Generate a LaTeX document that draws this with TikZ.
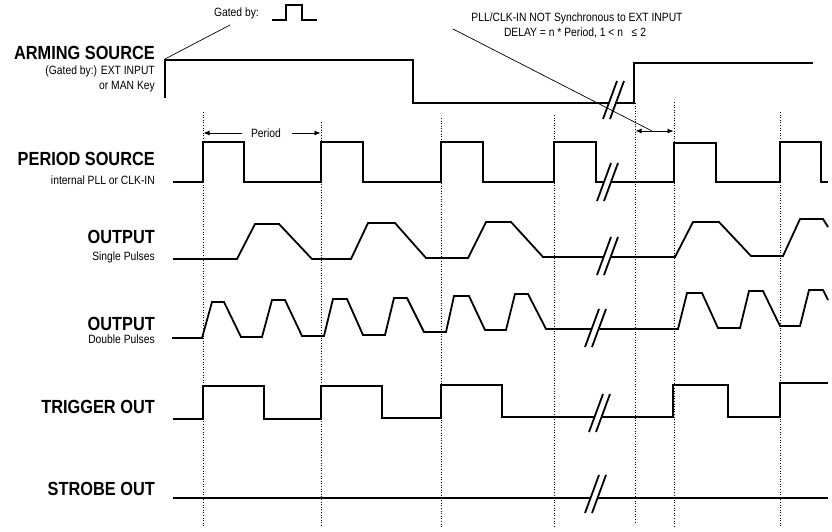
\documentclass[tikz,border=0pt]{standalone}
\usepackage{fontspec}
\setmainfont{Liberation Sans}[FakeStretch=0.86]
\usetikzlibrary{arrows.meta}
\tikzset{
  wave/.style={line width=1.8pt, line join=miter, line cap=butt},
  guide/.style={line width=0.6pt, dotted},
  leader/.style={line width=0.7pt},
  biglab/.style={font=\fontsize{19}{19}\selectfont\bfseries, inner sep=0pt, anchor=base east},
  smalllab/.style={font=\fontsize{12}{12}\selectfont, inner sep=0pt, anchor=base east},
  note/.style={font=\fontsize{12}{12}\selectfont, inner sep=0pt, anchor=base},
  dimarrow/.style={line width=0.8pt, {Latex[length=6pt,width=5pt]}-{Latex[length=6pt,width=5pt]}},
  onearrow/.style={line width=0.8pt, -{Latex[length=6pt,width=5pt]}}
}
\newcommand\brkmark[2]{%
  \fill[white] (#1,#2) -- ++(14,-38) -- ++(7,0) -- ++(-14,38) -- cycle;
  \draw[wave] (#1,#2) -- ++(14,-38) ({#1+7},#2) -- ++(14,-38);}
\begin{document}
\begin{tikzpicture}[x=1pt,y=-1pt]
\useasboundingbox (0,0) rectangle (832,532);

% dotted guide lines
\foreach \gx/\gt/\gb in {203/112/527, 321/122/527, 441/118/527, 554/115/527, 635/103/522, 674/102/527, 780/112/527}
  \draw[guide] (\gx,\gt) -- (\gx,\gb);

% labels
\node[biglab] (lArm) at (155,60) {ARMING SOURCE};
\node[smalllab] (lArm2) at (155,75) {(Gated by:) EXT INPUT};
\node[smalllab] (lArm3) at (155,90) {or MAN Key};
\node[biglab] (lPer) at (155,165) {PERIOD SOURCE};
\node[smalllab] (lPer2) at (155,184) {internal PLL or CLK-IN};
\node[biglab] (lOut1) at (155,243) {OUTPUT};
\node[smalllab] (lOut1b) at (155,260) {Single Pulses};
\node[biglab] (lOut2) at (155,330) {OUTPUT};
\node[smalllab] (lOut2b) at (155,343) {Double Pulses};
\node[biglab] (lTrig) at (155,413) {TRIGGER OUT};
\node[biglab] (lStr) at (155,495) {STROBE OUT};

% top annotations
\node[note, anchor=base east] (gated) at (259,17) {Gated by:};
\draw[wave] (272,20) -- (286,20) -- (286,5) -- (302,5) -- (302,20) -- (317,20);
\node[note] (sync1) at (577,22) {PLL/CLK-IN NOT Synchronous to EXT INPUT};
\node[note] (sync2) at (575,37) {DELAY = n * Period, 1 < n \ \ ≤ 2};

% arming source
\coordinate (armstart) at (165,59);
\draw[wave] (165,98) -- (165,60) -- (413,60) -- (413,103) -- (634,103) -- (634,63) -- (813,63);
\brkmark{603}{119}

% period source
\draw[wave] (173,182) -- (203,182) -- (203,142) -- (244,142) -- (244,182) -- (321,182) -- (321,142) -- (363,142) -- (363,182) -- (441,182) -- (441,142) -- (483,142) -- (483,182) -- (554,182) -- (554,142) -- (596,142) -- (596,182) -- (674,182) -- (674,143) -- (716,143) -- (716,182) -- (780,182) -- (780,142) -- (821,142) -- (821,182) -- (828,182);
\brkmark{597}{201}

% period annotation
\node[note] (per) at (266,138) {Period};
\draw[onearrow] (242,133) -- (203.5,133);
\draw[onearrow] (292,133) -- (320.5,133);

% output single pulses
\draw[wave] (173,259) -- (237,259) -- (255,224) -- (279,224) -- (312,259) -- (351,259) -- (368,223) -- (395,223) -- (426,258) -- (468,258) -- (486,222) -- (511,222) -- (543,257) -- (675,257) -- (693,222) -- (719,222) -- (751,256) -- (783,256) -- (800,219) -- (823,219) -- (828,227);
\brkmark{597}{275}

% output double pulses
\draw[wave] (172,338) -- (202,338) -- (212,302) -- (224,302) -- (241,337) -- (262,337) -- (272,300) -- (285,300) -- (302,336) -- (324,336) -- (333,299) -- (347,299) -- (363,335) -- (385,335) -- (394,298) -- (407,298) -- (424,332) -- (446,332) -- (454,296) -- (469,296) -- (485,330) -- (506,330) -- (515,294) -- (528,294) -- (546,329) -- (678,329) -- (687,293) -- (702,293) -- (718,328) -- (740,328) -- (749,291) -- (763,291) -- (780,326) -- (800,326) -- (809,290) -- (823,290) -- (828,300);
\brkmark{585}{347}

% trigger out
\draw[wave] (173,419) -- (203,419) -- (203,386) -- (264,386) -- (264,419) -- (321,419) -- (321,386) -- (382,386) -- (382,418) -- (441,418) -- (441,385) -- (502,385) -- (502,417) -- (673,417) -- (673,385) -- (728,385) -- (728,417) -- (780,417) -- (780,383) -- (828,383);
\brkmark{589}{432}

% strobe out
\draw[wave] (173,498) -- (828,498);
\brkmark{585}{513}

% leaders and delay arrow
\coordinate (gl) at (230,25);
\draw[leader] (gl) -- (armstart);
\coordinate (sl) at (453,29);
\coordinate (dl) at (652,131);
\draw[leader] (sl) -- (dl);
\coordinate (d1) at (635.5,131);
\coordinate (d2) at (673.5,131);
\draw[dimarrow] (d1) -- (d2);
\end{tikzpicture}
\end{document}
